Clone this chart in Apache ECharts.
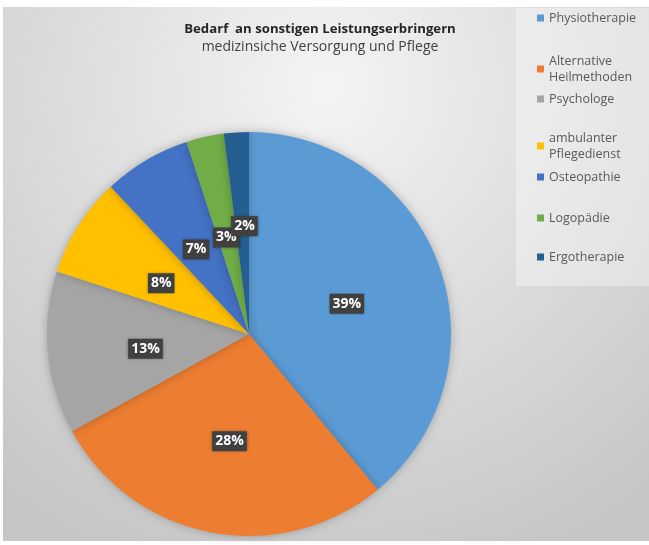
<!DOCTYPE html>
<html>
<head>
<meta charset="utf-8">
<script src="https://cdn.jsdelivr.net/npm/echarts@6/dist/echarts.min.js"></script>
<style>
html,body{margin:0;padding:0;background:#fff;}
#container1{width:649px;height:545px;}
</style>
</head>
<body>
<div id="container1"></div>
<script>
// Daten
var categories = ['Physiotherapie','Alternative\nHeilmethoden','Psychologe','ambulanter\nPflegedienst','Osteopathie','Logopädie','Ergotherapie'];
var values = [39, 28, 13, 8, 7, 3, 2];
var colors = ['#5b9bd5','#ed7d31','#a5a5a5','#ffc000','#4472c4','#70ad47','#255e91'];
// Legendenzeilen (Layout)
var legendTops = [10, 53, 91, 130, 169, 210, 249];

var myChart = echarts.init(document.getElementById('container1'));

var option = {
    color: colors,
    title: {
        text: 'Bedarf  an sonstigen Leistungserbringern',
        subtext: 'medizinsiche Versorgung und Pflege',
        left: 315,
        textAlign: 'center',
        top: 18,
        itemGap: 4,
        textStyle: {fontFamily: 'Open Sans', fontSize: 13.2, fontWeight: 'bold', color: '#262626'},
        subtextStyle: {fontFamily: 'Open Sans', fontSize: 14, color: '#404040'}
    },
    graphic: [
        {
            type: 'rect', z: -10, silent: true,
            shape: {x: 3, y: 7, width: 646, height: 534},
            style: {
                fill: {
                    type: 'radial', x: 0.5, y: 0.15, r: 0.95,
                    colorStops: [{offset: 0, color: '#f4f4f4'}, {offset: 1, color: '#c6c6c6'}]
                }
            }
        },
        {
            type: 'rect', z: -9, silent: true,
            shape: {x: 516, y: 8, width: 133, height: 278},
            style: {fill: 'rgba(255,255,255,0.35)'}
        }
    ],
    legend: (function () {
        var results = [];
        for (var i = 0; i < categories.length; ++i) {
            results[i] = {
                orient: 'vertical',
                left: 537,
                top: legendTops[i],
                padding: 0,
                itemWidth: 7,
                itemHeight: 7,
                icon: 'rect',
                data: [categories[i]],
                textStyle: {fontFamily: 'Open Sans', fontSize: 12.5, color: '#595959', lineHeight: 16}
            };
        }
        return results;
    })(),
    series: [
        {
            name: 'Bedarf',
            type: 'pie',
            radius: 202,
            center: [249, 334],
            startAngle: 90,
            clockwise: true,
            avoidLabelOverlap: false,
            itemStyle: {
                shadowBlur: 10,
                shadowColor: 'rgba(0,0,0,0.25)'
            },
            label: {
                position: 'inside',
                formatter: function (p) { return Math.round(p.percent) + '%'; },
                color: '#fff',
                fontFamily: 'Open Sans',
                fontWeight: 'bold',
                fontSize: 14,
                backgroundColor: '#404040',
                padding: [4, 3, 2, 3],
                shadowBlur: 3,
                shadowColor: 'rgba(0,0,0,0.4)'
            },
            labelLine: {show: false},
            labelLayout: function (params) {
                if (params.dataIndex === values.length - 1) {
                    return {hideOverlap: false, dy: -4, dx: 2};
                }
                return {hideOverlap: false, dy: 5};
            },
            data: (function () {
                var arr = [];
                for (var i = 0; i < values.length; ++i) {
                    arr[i] = {value: values[i], name: categories[i]};
                }
                return arr;
            })()
        }
    ]
};

myChart.setOption(option);
</script>
</body>
</html>
